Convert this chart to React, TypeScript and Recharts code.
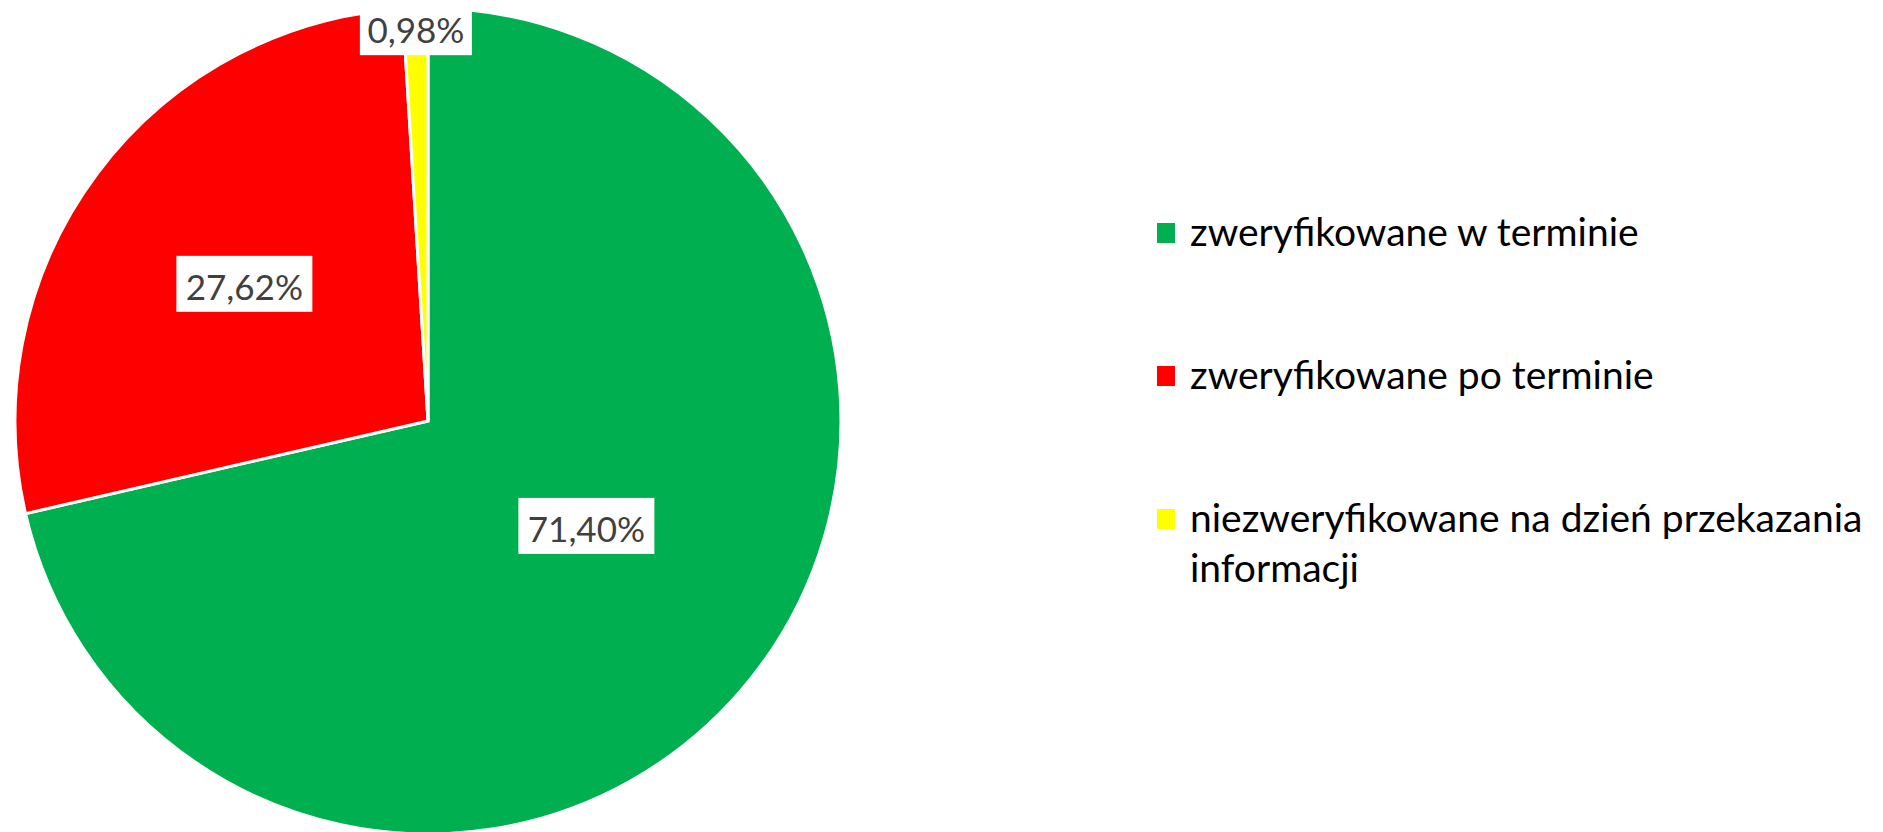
import React from 'react';
import { PieChart, Pie, Cell, Legend } from 'recharts';

// share of cases, in %
const categories = [
  'zweryfikowane w terminie',
  'zweryfikowane po terminie',
  'niezweryfikowane na dzień przekazania informacji',
];
const shares = [71.4, 27.62, 0.98];
const colors = ['#00B050', '#FF0000', '#FFFF00'];

// label placement: fraction of the radius and a small turn (degrees) off the slice middle
const LABEL_RADIUS = [0.46, 0.555, 0.954];
const LABEL_TURN = [5, 0, 0];

const data = categories.map((name, i) => ({ name, value: shares[i] }));

const RADIAN = Math.PI / 180;
const FONT = 'Lato, "Open Sans", sans-serif';

const formatPct = (v: number) => v.toFixed(2).replace('.', ',') + '%';

const renderLabel = (props: any) => {
  const { cx, cy, midAngle, outerRadius, index, value } = props;
  const r = outerRadius * LABEL_RADIUS[index];
  const a = (midAngle + LABEL_TURN[index]) * RADIAN;
  const x = cx + r * Math.cos(-a);
  const y = cy + r * Math.sin(-a);
  const text = formatPct(value);
  const w = text.length * 24 - 8;
  const h = 56;
  return (
    <g>
      <rect x={x - w / 2} y={y - h / 2} width={w} height={h} fill="#ffffff" />
      <text
        x={x}
        y={y + 2}
        textAnchor="middle"
        dominantBaseline="central"
        fill="#404040"
        fontSize={35}
        fontFamily={FONT}
      >
        {text}
      </text>
    </g>
  );
};

const renderLegend = (props: any) => {
  const payload = [...(props.payload || [])].sort(
    (a: any, b: any) => categories.indexOf(a.value) - categories.indexOf(b.value)
  );
  return (
    <div style={{ fontFamily: FONT, fontSize: 39, lineHeight: '50px', color: '#000' }}>
      {payload.map((entry: any, i: number) => (
        <div
          key={entry.value}
          style={{ display: 'flex', alignItems: 'flex-start', marginBottom: i < payload.length - 1 ? 93 : 0 }}
        >
          <span
            style={{
              display: 'inline-block',
              width: 18,
              height: 20,
              marginTop: 17,
              marginRight: 15,
              background: entry.color,
              flexShrink: 0,
            }}
          />
          <span style={{ width: 690 }}>{entry.value}</span>
        </div>
      ))}
    </div>
  );
};

const App: React.FC = () => {
  return (
    <div style={{ position: 'absolute', left: 0, top: 0, background: '#fff' }}>
      <PieChart width={1883} height={832} margin={{ top: 0, right: 0, bottom: 0, left: 0 }}>
        <Pie
          data={data}
          dataKey="value"
          nameKey="name"
          cx={428}
          cy={421}
          outerRadius={413}
          startAngle={90}
          endAngle={-270}
          stroke="#ffffff"
          strokeWidth={3}
          label={renderLabel}
          labelLine={false}
          isAnimationActive={false}
        >
          {data.map((d, i) => (
            <Cell key={d.name} fill={colors[i]} />
          ))}
        </Pie>
        <Legend
          layout="vertical"
          content={renderLegend}
          wrapperStyle={{ position: 'absolute', left: 1157, top: 206, width: 726, bottom: 'auto', right: 'auto' }}
        />
      </PieChart>
    </div>
  );
};

export default App;
